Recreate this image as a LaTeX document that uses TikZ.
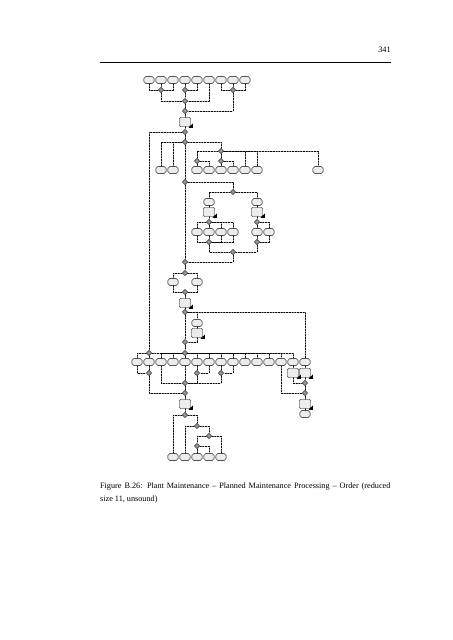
\documentclass[tikz,border=0pt]{standalone}
\usepackage{fontspec}
\setmainfont{Liberation Serif}
\usetikzlibrary{shapes.geometric}

\tikzset{
  evt/.style={draw, line width=0.55pt, rounded corners=2.6pt, fill=gray!15, minimum width=13.4pt, minimum height=9.4pt, inner sep=0pt},
  fnc/.style={draw, line width=0.55pt, rounded corners=1.3pt, fill=gray!15, minimum width=14.5pt, minimum height=11.8pt, inner sep=0pt},
  xorc/.style={draw, line width=0.5pt, diamond, fill=gray!80, minimum size=7pt, inner sep=0pt},
  flow/.style={line width=0.6pt, dash pattern=on 2.2pt off 1.4pt},
}
\newcommand{\fntri}[1]{\fill (#1.south east) ++(2.2,1.2) -- ++(0,-4.4) -- ++(-4.4,4.4) -- cycle;}

\begin{document}
\begin{tikzpicture}[line cap=round,line join=round,x=1.316pt,y=-1.316pt]
\useasboundingbox (0,0) rectangle (452,640);
%header
\node[anchor=east, inner sep=0pt, font=\fontsize{11}{13}\selectfont] (pgnum) at (391,50) {341};
\draw [line width=0.45pt] (100,62) -- (391,62);

%top events
\node[evt] (e1) at (149,80) {};
\node[evt] (e2) at (161,80) {};
\node[evt] (e3) at (173,80) {};
\node[evt] (e4) at (185,80) {};
\node[evt] (e5) at (197,80) {};
\node[evt] (e6) at (209,80) {};
\node[evt] (e7) at (221,80) {};
\node[evt] (e8) at (233,80) {};
\node[evt] (e9) at (245,80) {};
\node[xorc] (c1) at (161,90) {};
\node[xorc] (c2) at (185,90) {};
\node[xorc] (c3) at (233,90) {};
\node[xorc] (c4) at (185,101) {};
\node[xorc] (c5) at (185,111) {};
\node[fnc] (f1) at (185,122) {};
\node[xorc] (c6) at (185,132) {};
\node[xorc] (c7) at (185,142) {};
\draw[flow] (e1) |- (c1);
\draw[flow] (e2) -- (c1);
\draw[flow] (e3) |- (c1);
\draw[flow] (e4) -- (c2);
\draw[flow] (e5) |- (c2);
\draw[flow] (e7) |- (c3);
\draw[flow] (e8) -- (c3);
\draw[flow] (e9) |- (c3);
\draw[flow] (c1) |- (c4);
\draw[flow] (c2) -- (c4);
\draw[flow] (e6) |- (c4);
\draw[flow] (c4) -- (c5);
\draw[flow] (c3) |- (c5);
\draw[flow] (c5) -- (f1);
\draw[flow] (f1) -- (c6);
\draw[flow] (c6) -- (c7);

%second row
\node[xorc] (c8) at (221,151) {};
\node[xorc] (c9) at (197,161) {};
\node[xorc] (c10) at (221,161) {};
\node[evt] (e10) at (161,170) {};
\node[evt] (e11) at (173,170) {};
\node[evt] (e12) at (197,170) {};
\node[evt] (e13) at (209,170) {};
\node[evt] (e14) at (221,170) {};
\node[evt] (e15) at (233,170) {};
\node[evt] (e16) at (245,170) {};
\node[evt] (e17) at (257,170) {};
\node[evt] (e18) at (318,170) {};
\draw[flow] (c7) -| (e10);
\draw[flow] (c7) -| (e11);
\draw[flow] (c7) -| (c8);
\draw[flow] (c8) -| (c9);
\draw[flow] (c8) -- (c10);
\draw[flow] (c8) -| (e16);
\draw[flow] (c8) -| (e17);
\draw[flow] (c8) -| (e18);
\draw[flow] (c9) -- (e12);
\draw[flow] (c9) -| (e13);
\draw[flow] (c10) -- (e14);
\draw[flow] (c10) -| (e15);

%loop block
\node[xorc] (c12) at (185,182) {};
\node[xorc] (c13) at (233,192) {};
\node[evt] (e20) at (209,202) {};
\node[evt] (e21) at (257,202) {};
\node[fnc] (f2) at (209,212) {};
\node[fnc] (f3) at (257,212) {};
\node[xorc] (c14) at (209,222) {};
\node[xorc] (c16) at (257,222) {};
\node[evt] (e22) at (197,232) {};
\node[evt] (e23) at (209,232) {};
\node[evt] (e24) at (221,232) {};
\node[evt] (e25) at (233,232) {};
\node[evt] (e26) at (257,232) {};
\node[evt] (e27) at (269,232) {};
\node[xorc] (c15) at (209,242) {};
\node[xorc] (c17) at (257,242) {};
\node[xorc] (c18) at (233,252) {};
\node[xorc] (c19) at (185,262) {};
\draw[flow] (c7) -- (c12);
\draw[flow] (c12) -| (c13);
\draw[flow] (c13) -| (e20);
\draw[flow] (c13) -| (e21);
\draw[flow] (e20) -- (f2);
\draw[flow] (e21) -- (f3);
\draw[flow] (f2) -- (c14);
\draw[flow] (f3) -- (c16);
\draw[flow] (c14) -| (e22);
\draw[flow] (c14) -- (e23);
\draw[flow] (c14) -| (e24);
\draw[flow] (c14) -| (e25);
\draw[flow] (e22) |- (c15);
\draw[flow] (e23) -- (c15);
\draw[flow] (e24) |- (c15);
\draw[flow] (e25) |- (c15);
\draw[flow] (c16) -- (e26);
\draw[flow] (c16) -| (e27);
\draw[flow] (e26) -- (c17);
\draw[flow] (e27) |- (c17);
\draw[flow] (c15) |- (c18);
\draw[flow] (c17) |- (c18);
\draw[flow] (c18) |- (c19);
\draw[flow] (c12) -- (c19);

%middle
\node[xorc] (c20) at (185,273) {};
\node[evt] (e28) at (173,282) {};
\node[evt] (e29) at (197,282) {};
\node[xorc] (c21) at (185,292) {};
\node[fnc] (f4) at (185,303) {};
\node[xorc] (c22) at (185,312) {};
\node[evt] (e30) at (197,323) {};
\node[fnc] (f5) at (197,333) {};
\node[xorc] (c23) at (185,342) {};
\node[xorc] (c24) at (185,353) {};
\node[xorc] (c36) at (149,353) {};
\draw[flow] (c19) -- (c20);
\draw[flow] (c20) -| (e28);
\draw[flow] (c20) -| (e29);
\draw[flow] (e28) |- (c21);
\draw[flow] (e29) |- (c21);
\draw[flow] (c21) -- (f4);
\draw[flow] (f4) -- (c22);
\draw[flow] (c22) -| (e30);
\draw[flow] (e30) -- (f5);
\draw[flow] (f5) |- (c23);
\draw[flow] (c22) -- (c23);
\draw[flow] (c23) -- (c24);
\draw[flow] (c6) -| (c36);
\draw[flow] (c36) -- (c24);

%long row
\node[evt] (r137) at (137,362) {};
\node[evt] (r149) at (149,362) {};
\node[evt] (r161) at (161,362) {};
\node[evt] (r173) at (173,362) {};
\node[evt] (r185) at (185,362) {};
\node[evt] (r197) at (197,362) {};
\node[evt] (r209) at (209,362) {};
\node[evt] (r221) at (221,362) {};
\node[evt] (r233) at (233,362) {};
\node[evt] (r245) at (245,362) {};
\node[evt] (r257) at (257,362) {};
\node[evt] (r269) at (269,362) {};
\node[evt] (r281) at (281,362) {};
\node[evt] (r293) at (293,362) {};
\node[evt] (r305) at (305,362) {};
\draw[flow] (c36) -| (r137);
\draw[flow] (c36) -- (r149);
\draw[flow] (c24) -| (r161);
\draw[flow] (c24) -| (r173);
\draw[flow] (c24) -- (r185);
\draw[flow] (c24) -| (r197);
\draw[flow] (c24) -| (r209);
\draw[flow] (c24) -| (r221);
\draw[flow] (c24) -| (r233);
\draw[flow] (c24) -| (r245);
\draw[flow] (c24) -| (r257);
\draw[flow] (c24) -| (r269);
\draw[flow] (c24) -| (r281);
\draw[flow] (c24) -| (r293);
\draw[flow] (c22) -| (r305);

%lower left block
\node[xorc] (c25) at (149,373) {};
\node[xorc] (c26) at (197,373) {};
\node[xorc] (c27) at (221,373) {};
\node[xorc] (c28) at (185,383) {};
\node[xorc] (c29) at (185,393) {};
\node[fnc] (f6) at (185,404) {};
\node[xorc] (c30) at (185,415) {};
\node[xorc] (c31) at (197,426) {};
\node[xorc] (c32) at (209,436) {};
\node[xorc] (c33) at (197,446) {};
\node[evt] (b173) at (173,457) {};
\node[evt] (b185) at (185,457) {};
\node[evt] (b197) at (197,457) {};
\node[evt] (b209) at (209,457) {};
\node[evt] (b221) at (221,457) {};
\draw[flow] (r137) |- (c25);
\draw[flow] (r149) -- (c25);
\draw[flow] (r197) -- (c26);
\draw[flow] (r209) |- (c26);
\draw[flow] (r221) -- (c27);
\draw[flow] (r233) |- (c27);
\draw[flow] (r161) |- (c28);
\draw[flow] (r185) -- (c28);
\draw[flow] (c26) |- (c28);
\draw[flow] (c27) |- (c28);
\draw[flow] (c25) |- (c29);
\draw[flow] (c28) -- (c29);
\draw[flow] (c29) -- (f6);
\draw[flow] (f6) -- (c30);
\draw[flow] (c30) -| (b173);
\draw[flow] (c30) -| (c31);
\draw[flow] (c31) -| (b185);
\draw[flow] (c31) -| (c32);
\draw[flow] (c32) -| (c33);
\draw[flow] (c32) -| (b221);
\draw[flow] (c33) -- (b197);
\draw[flow] (c33) -| (b209);

%right column
\node[fnc] (f7) at (293,373) {};
\node[fnc] (f8) at (305,373) {};
\node[xorc] (c34) at (305,383) {};
\node[xorc] (c35) at (305,393) {};
\node[fnc] (f9) at (305,404) {};
\node[evt] (er) at (305,414) {};
\draw[flow] (r293) -- (f7);
\draw[flow] (r305) -- (f8);
\draw[flow] (f7) |- (c34);
\draw[flow] (f8) -- (c34);
\draw[flow] (c34) -- (c35);
\draw[flow] (r281) |- (c35);
\draw[flow] (c35) -- (f9);
\draw[flow] (f9) -- (er);

%function markers
\fntri{f1} \fntri{f2} \fntri{f3} \fntri{f4} \fntri{f5}
\fntri{f6} \fntri{f7} \fntri{f8} \fntri{f9}

%caption
\node[anchor=north west, inner sep=0pt, align=left, font=\fontsize{10.8}{17}\selectfont] (cap) at (100,483)
  {\hbox to 382pt{Figure B.26: Plant Maintenance -- Planned Maintenance Processing -- Order (reduced}\\ size 11, unsound)};
\end{tikzpicture}
\end{document}
